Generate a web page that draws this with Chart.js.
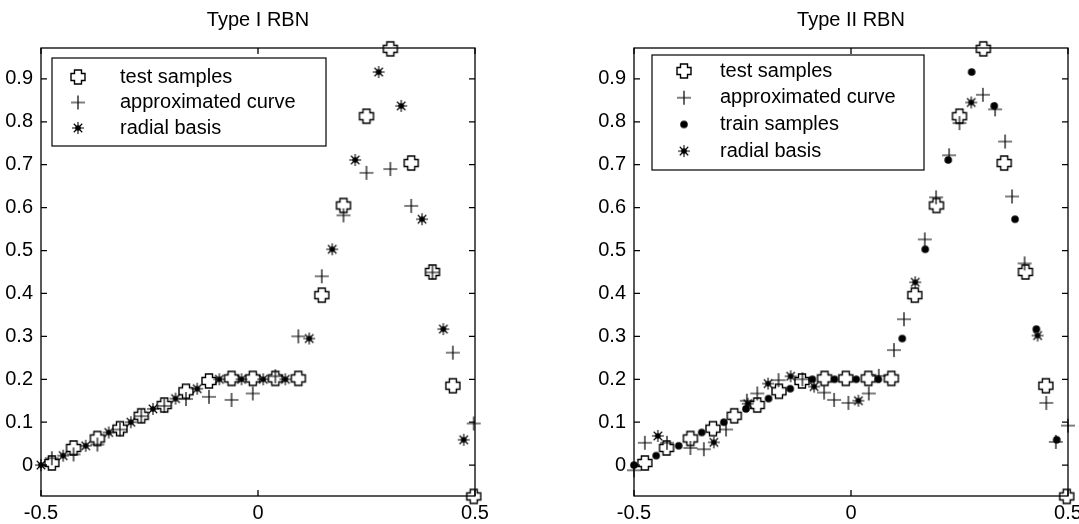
<!DOCTYPE html>
<html>
<head>
<meta charset="utf-8">
<script src="https://cdn.jsdelivr.net/npm/chart.js@4.4.1/dist/chart.umd.min.js"></script>
<style>
html, body { margin:0; padding:0; background:#fff; overflow:hidden; width:1079px; height:524px; }
canvas { position:absolute; top:0; }
#left { left:0; }
#right { left:593px; }
</style>
</head>
<body>
<canvas id="left" width="516" height="524"></canvas>
<canvas id="right" width="516" height="524"></canvas>
<script>
// test samples (same in both plots)
var testX = [-0.475, -0.425, -0.370, -0.318, -0.269, -0.216, -0.166, -0.113, -0.061, -0.012, 0.040, 0.093, 0.147, 0.197, 0.250, 0.305, 0.353, 0.402, 0.449, 0.497]
var testY = [0.005, 0.040, 0.062, 0.085, 0.115, 0.140, 0.172, 0.196, 0.202, 0.202, 0.202, 0.202, 0.396, 0.605, 0.813, 0.970, 0.704, 0.450, 0.185, -0.073]

// train samples / centres (radial basis in Type I, train samples in Type II)
var trainX = [-0.500, -0.449, -0.397, -0.344, -0.293, -0.242, -0.190, -0.140, -0.089, -0.038, 0.012, 0.063, 0.118, 0.171, 0.224, 0.278, 0.330, 0.378, 0.427, 0.474]
var trainY = [0.000, 0.022, 0.045, 0.076, 0.100, 0.131, 0.155, 0.178, 0.200, 0.200, 0.200, 0.200, 0.295, 0.503, 0.711, 0.916, 0.837, 0.573, 0.317, 0.059]

// Type I approximated curve (at the test x)
var approx1Y = [0.016, 0.025, 0.048, 0.083, 0.114, 0.138, 0.154, 0.159, 0.152, 0.167, 0.207, 0.300, 0.440, 0.582, 0.681, 0.690, 0.604, 0.449, 0.262, 0.097]

// Type II approximated curve
var approx2X = [-0.500, -0.475, -0.424, -0.370, -0.339, -0.288, -0.240, -0.216, -0.167, -0.112, -0.062, -0.039, -0.006, 0.041, 0.064, 0.099, 0.122, 0.170, 0.196, 0.226, 0.250, 0.304, 0.332, 0.355, 0.371, 0.400, 0.450, 0.472, 0.500]
var approx2Y = [-0.012, 0.052, 0.052, 0.040, 0.037, 0.083, 0.150, 0.167, 0.198, 0.200, 0.169, 0.152, 0.145, 0.167, 0.208, 0.268, 0.340, 0.526, 0.624, 0.722, 0.797, 0.863, 0.829, 0.754, 0.626, 0.470, 0.145, 0.054, 0.092]

// Type II radial basis
var rb2X = [-0.445, -0.316, -0.238, -0.191, -0.139, -0.085, 0.017, 0.148, 0.277, 0.430]
var rb2Y = [0.068, 0.053, 0.143, 0.190, 0.207, 0.183, 0.150, 0.426, 0.845, 0.302]

var xTicks = [-0.5, 0, 0.5]
var yTicks = [0, 0.1, 0.2, 0.3, 0.4, 0.5, 0.6, 0.7, 0.8, 0.9]
var xMin = -0.5, xMax = 0.5, yMin = -0.072, yMax = 0.972

var FONT = '"Liberation Sans", Arial, sans-serif'
Chart.defaults.font.family = FONT
Chart.defaults.font.size = 20
Chart.defaults.color = '#000'

function pts(xs, ys){
  return xs.map(function(x, i){ return {x: x, y: ys[i]} })
}

// marker pictures
function marker(kind){
  var c = document.createElement('canvas')
  c.width = 20; c.height = 20
  var g = c.getContext('2d')
  g.translate(10, 10)
  g.strokeStyle = '#000'; g.fillStyle = '#000'
  if (kind == 'cross') {
    var a = 3.5, b = 7
    g.lineWidth = 1.4
    g.beginPath()
    g.moveTo(-a,-b); g.lineTo(a,-b); g.lineTo(a,-a); g.lineTo(b,-a); g.lineTo(b,a); g.lineTo(a,a)
    g.lineTo(a,b); g.lineTo(-a,b); g.lineTo(-a,a); g.lineTo(-b,a); g.lineTo(-b,-a); g.lineTo(-a,-a)
    g.closePath(); g.stroke()
  } else if (kind == 'plus') {
    g.lineWidth = 1.2
    g.beginPath(); g.moveTo(-7,0); g.lineTo(7,0); g.moveTo(0,-7); g.lineTo(0,7); g.stroke()
  } else if (kind == 'star') {
    g.lineWidth = 1.1
    g.beginPath()
    for (var k = 0; k < 4; k++) {
      var t = k * Math.PI / 4
      g.moveTo(-6*Math.cos(t), -6*Math.sin(t)); g.lineTo(6*Math.cos(t), 6*Math.sin(t))
    }
    g.stroke()
    g.beginPath(); g.arc(0, 0, 2.8, 0, Math.PI*2); g.fill()
  } else {
    g.beginPath(); g.arc(0, 0, 3.8, 0, Math.PI*2); g.fill()
  }
  return c
}
var mTest = marker('cross'), mPlus = marker('plus'), mStar = marker('star'), mDot = marker('dot')

function ds(label, data, img){
  return {label: label, data: data, pointStyle: img, pointRadius: 7, pointHoverRadius: 7,
    borderWidth: 1, showLine: false, clip: false}
}

// axes box with inward ticks, and the boxed legend inside the axes
var boxPlugin = {
  id: 'matBox',
  afterDatasetsDraw: function(chart){
    var a = chart.chartArea, ctx = chart.ctx
    var xs = chart.scales.x, ys = chart.scales.y
    ctx.save()
    ctx.strokeStyle = '#000'
    ctx.lineWidth = 1.3
    ctx.strokeRect(a.left, a.top, a.right - a.left, a.bottom - a.top)
    ctx.beginPath()
    ys.ticks.forEach(function(t){
      var p = ys.getPixelForValue(t.value)
      ctx.moveTo(a.left, p); ctx.lineTo(a.left + 6, p)
      ctx.moveTo(a.right, p); ctx.lineTo(a.right - 6, p)
    })
    xs.ticks.forEach(function(t){
      var p = xs.getPixelForValue(t.value)
      ctx.moveTo(p, a.bottom); ctx.lineTo(p, a.bottom - 6)
      ctx.moveTo(p, a.top); ctx.lineTo(p, a.top + 6)
    })
    ctx.stroke()
    ctx.restore()
  },
  afterDraw: function(chart){
    var o = chart.options.plugins.matBox
    if (!o) return
    var a = chart.chartArea, ctx = chart.ctx
    var L = a.left + o.left, T = a.top + o.top
    ctx.save()
    ctx.fillStyle = '#fff'
    ctx.fillRect(L, T, o.width, o.height)
    ctx.strokeStyle = '#000'; ctx.lineWidth = 1.2
    ctx.strokeRect(L, T, o.width, o.height)
    ctx.font = '20px ' + FONT
    ctx.fillStyle = '#000'
    ctx.textBaseline = 'middle'
    chart.data.datasets.forEach(function(d, i){
      var y = T + o.first + i * o.gap
      var img = d.pointStyle
      ctx.drawImage(img, L + o.markX - img.width/2, y - img.height/2)
      ctx.fillText(d.label, L + o.textX, y)
    })
    ctx.restore()
  }
}

function makeChart(id, title, datasets, leg){
  return new Chart(document.getElementById(id), {
    type: 'scatter',
    data: {datasets: datasets},
    plugins: [boxPlugin],
    options: {
      responsive: false,
      animation: false,
      events: [],
      layout: {padding: 0},
      plugins: {
        legend: {display: false},
        tooltip: {enabled: false},
        title: {display: true, text: title, color: '#000', font: {size: 20, weight: 'normal'}, padding: {top: 8, bottom: 16}},
        matBox: leg
      },
      scales: {
        x: {
          type: 'linear', min: xMin, max: xMax,
          grid: {display: false, drawTicks: false}, border: {display: false},
          afterBuildTicks: function(s){ s.ticks = xTicks.map(function(v){ return {value: v} }) },
          afterFit: function(s){ s.height = 28 },
          ticks: {padding: 5, maxRotation: 0, autoSkip: false, color: '#000',
            callback: function(v){ return String(v) }}
        },
        y: {
          type: 'linear', min: yMin, max: yMax,
          grid: {display: false, drawTicks: false}, border: {display: false},
          afterBuildTicks: function(s){ s.ticks = yTicks.map(function(v){ return {value: v} }) },
          afterFit: function(s){ s.width = 41 },
          ticks: {padding: 8, autoSkip: false, color: '#000',
            callback: function(v){ return String(v) }}
        },
        yR: {
          type: 'linear', position: 'right',
          grid: {display: false, drawTicks: false}, border: {display: false}, ticks: {display: false},
          afterFit: function(s){ s.width = 41 }
        }
      }
    }
  })
}

makeChart('left', 'Type I RBN', [
  ds('test samples', pts(testX, testY), mTest),
  ds('approximated curve', pts(testX, approx1Y), mPlus),
  ds('radial basis', pts(trainX, trainY), mStar)
], {left: 11, top: 10, width: 274, height: 88, first: 19, gap: 25.5, markX: 26, textX: 68})

makeChart('right', 'Type II RBN', [
  ds('test samples', pts(testX, testY), mTest),
  ds('approximated curve', pts(approx2X, approx2Y), mPlus),
  ds('train samples', pts(trainX, trainY), mDot),
  ds('radial basis', pts(rb2X, rb2Y), mStar)
], {left: 18, top: 7, width: 272, height: 115, first: 16, gap: 26.7, markX: 32, textX: 68})
</script>
</body>
</html>
